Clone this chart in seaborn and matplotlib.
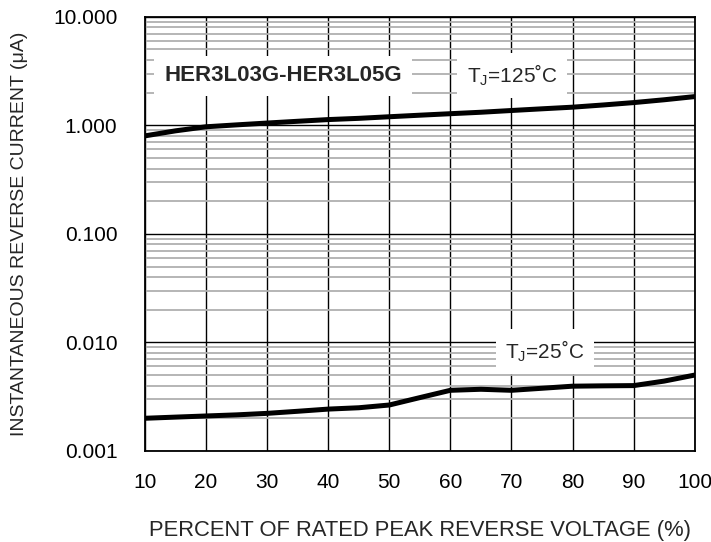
import seaborn as sns
import matplotlib.pyplot as plt
from matplotlib.ticker import LogLocator, FixedLocator, FuncFormatter, NullFormatter
import pandas as pd

# percent of rated peak reverse voltage
voltage = [10, 15, 20, 25, 30, 35, 40, 45, 50, 55, 60, 65, 70, 75, 80, 85, 90, 95, 100]

# reverse current (uA)
ir_125 = [0.80, 0.89, 0.97, 1.01, 1.05, 1.09, 1.13, 1.16, 1.20, 1.24, 1.28,
          1.32, 1.37, 1.42, 1.47, 1.54, 1.62, 1.72, 1.84]
ir_25 = [0.0020, 0.00205, 0.0021, 0.00215, 0.00222, 0.00232, 0.00243, 0.0025,
         0.00265, 0.0031, 0.00362, 0.0037, 0.00362, 0.00378, 0.00395, 0.00398,
         0.0040, 0.0044, 0.0050]

x_ticks = [10, 20, 30, 40, 50, 60, 70, 80, 90, 100]
y_ticks = [0.001, 0.01, 0.1, 1, 10]

df = pd.DataFrame({
    'voltage': voltage * 2,
    'current': ir_125 + ir_25,
    'tj': ['125'] * len(voltage) + ['25'] * len(voltage),
})

sns.set_style('white')
plt.rcParams['font.family'] = ['Liberation Sans', 'DejaVu Sans']
plt.rcParams['mathtext.fontset'] = 'custom'
plt.rcParams['mathtext.rm'] = 'Liberation Sans'
plt.rcParams['mathtext.it'] = 'Liberation Sans'

fig = plt.figure(figsize=(7.11, 5.42), dpi=100)
ax = fig.add_axes([0.204, 0.168, 0.773, 0.801])

sns.lineplot(data=df, x='voltage', y='current', units='tj', estimator=None,
             color='black', lw=3.6, ax=ax, legend=False, zorder=5)

ax.set_yscale('log')
ax.set_xlim(10, 100)
ax.set_ylim(0.001, 10)

ax.xaxis.set_major_locator(FixedLocator(x_ticks))
ax.yaxis.set_major_locator(FixedLocator(y_ticks))
ax.yaxis.set_minor_locator(LogLocator(base=10, subs=range(2, 10)))
ax.yaxis.set_minor_formatter(NullFormatter())
ax.yaxis.set_major_formatter(FuncFormatter(lambda v, p: f'{v:.3f}'))

ax.grid(True, which='minor', axis='y', color='#b0b0b0', lw=1.3)
ax.grid(True, which='major', axis='both', color='black', lw=1.0)
ax.set_axisbelow(True)
for s in ax.spines.values():
    s.set_color('black')
    s.set_linewidth(1.3)

ax.tick_params(axis='both', which='both', length=0, labelsize=15, colors='black')
ax.tick_params(axis='x', pad=16)
ax.tick_params(axis='y', pad=20)

ax.set_xlabel('PERCENT OF RATED PEAK REVERSE VOLTAGE (%)', fontsize=15.8, labelpad=20)
ax.set_ylabel('INSTANTANEOUS REVERSE CURRENT (μA)', fontsize=14, labelpad=18)

box = dict(facecolor='white', edgecolor='none', pad=7)
ax.text(32.6, 2.86, 'HER3L03G-HER3L05G', fontsize=16, fontweight='bold',
        ha='center', va='center', bbox=box, zorder=6)
ax.text(70.1, 2.86, 'T$_{\\mathrm{J}}$=125˚C', fontsize=15,
        ha='center', va='center', bbox=box, zorder=6)
ax.text(75.5, 0.0082, 'T$_{\\mathrm{J}}$=25˚C', fontsize=15,
        ha='center', va='center', bbox=box, zorder=6)

plt.savefig('out.png', dpi=100)
